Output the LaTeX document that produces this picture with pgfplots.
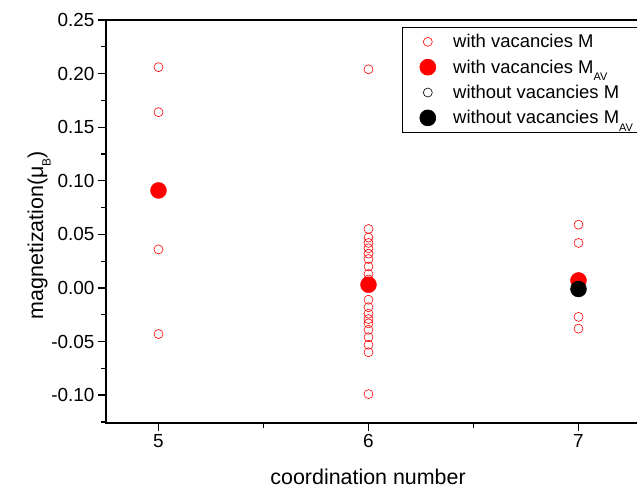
\documentclass[border=0pt]{standalone}
\usepackage{fontspec}
\setmainfont{Liberation Sans}
\usepackage{pgfplots}
\pgfplotsset{compat=1.18}
\begin{document}
\begin{tikzpicture}
\begin{axis}[
  at={(0,0)}, anchor=south west,
  scale only axis, width=560bp, height=403bp,
  xmin=4.75, xmax=7.4167, ymin=-0.126, ymax=0.25,
  axis line style={line width=1.5bp},
  every tick/.style={line width=1.3bp, black},
  tick align=outside,
  major tick length=8bp, minor tick length=4.5bp,
  xtick={5,6,7}, minor xtick={5.5,6.5,7.5},
  ytick={-0.10,-0.05,0,0.05,0.10,0.15,0.20,0.25},
  minor ytick={-0.125,-0.075,-0.025,0.025,0.075,0.125,0.175,0.225},
  xtick pos=bottom, ytick pos=left,
  /pgf/number format/assume math mode=true,
  yticklabel style={/pgf/number format/fixed, /pgf/number format/fixed zerofill, /pgf/number format/precision=2},
  tick label style={font=\fontsize{19}{20}\selectfont},
  xlabel={coordination number},
  ylabel={magnetization(μ\raisebox{-0.35em}{\fontsize{12}{12}\selectfont B})},
  xlabel style={font=\fontsize{21.5}{24}\selectfont, at={(axis description cs:0.468,-0.134)}, anchor=center},
  ylabel style={font=\fontsize{21.5}{24}\selectfont, at={(axis description cs:-0.1196,0.466)}, anchor=center, rotate=0},
  legend style={at={(axis description cs:0.5286,0.9826)}, anchor=north west,
    draw=black, line width=0.8bp, inner xsep=12bp, inner ysep=5bp,
    font=\fontsize{18.5}{20}\selectfont, nodes={inner sep=2bp}, row sep=6.5bp},
  legend cell align=left,
  legend image code/.code={\path (0bp,0bp) (36bp,0bp); \draw[#1, line width=0.6bp] plot coordinates {(13bp,0bp)};},
]
\addplot[only marks, mark=o, mark size=4.5bp, red, mark options={line width=0.6bp}] coordinates {
(5,0.206)(5,0.164)(5,0.036)(5,-0.043)
(6,0.204)(6,0.055)(6,0.047)(6,0.042)(6,0.037)(6,0.032)(6,0.027)(6,0.020)(6,0.013)(6,0.008)
(6,-0.011)(6,-0.018)(6,-0.024)(6,-0.029)(6,-0.033)(6,-0.039)(6,-0.046)(6,-0.053)(6,-0.060)(6,-0.099)
(7,0.059)(7,0.042)(7,-0.027)(7,-0.038)
};
\addlegendentry{with vacancies M}
\addplot[only marks, mark=*, mark size=8bp, red, mark options={draw=red, fill=red}] coordinates {
(5,0.091)(6,0.003)(7,0.007)
};
\addlegendentry{with vacancies M\raisebox{-0.4em}{\fontsize{11}{11}\selectfont AV}}
\addplot[only marks, mark=o, mark size=4.5bp, black, mark options={line width=0.6bp}] coordinates {
(7,0.001)(7,0.000)(7,-0.001)
};
\addlegendentry{without vacancies M}
\addplot[only marks, mark=*, mark size=8bp, black, mark options={draw=black, fill=black}] coordinates {
(7,-0.001)
};
\addlegendentry{without vacancies M\raisebox{-0.4em}{\fontsize{11}{11}\selectfont AV}}
\end{axis}
\pgfresetboundingbox
\path[use as bounding box] (-106bp,-65bp) rectangle (531bp,423bp);
\end{tikzpicture}
\end{document}
